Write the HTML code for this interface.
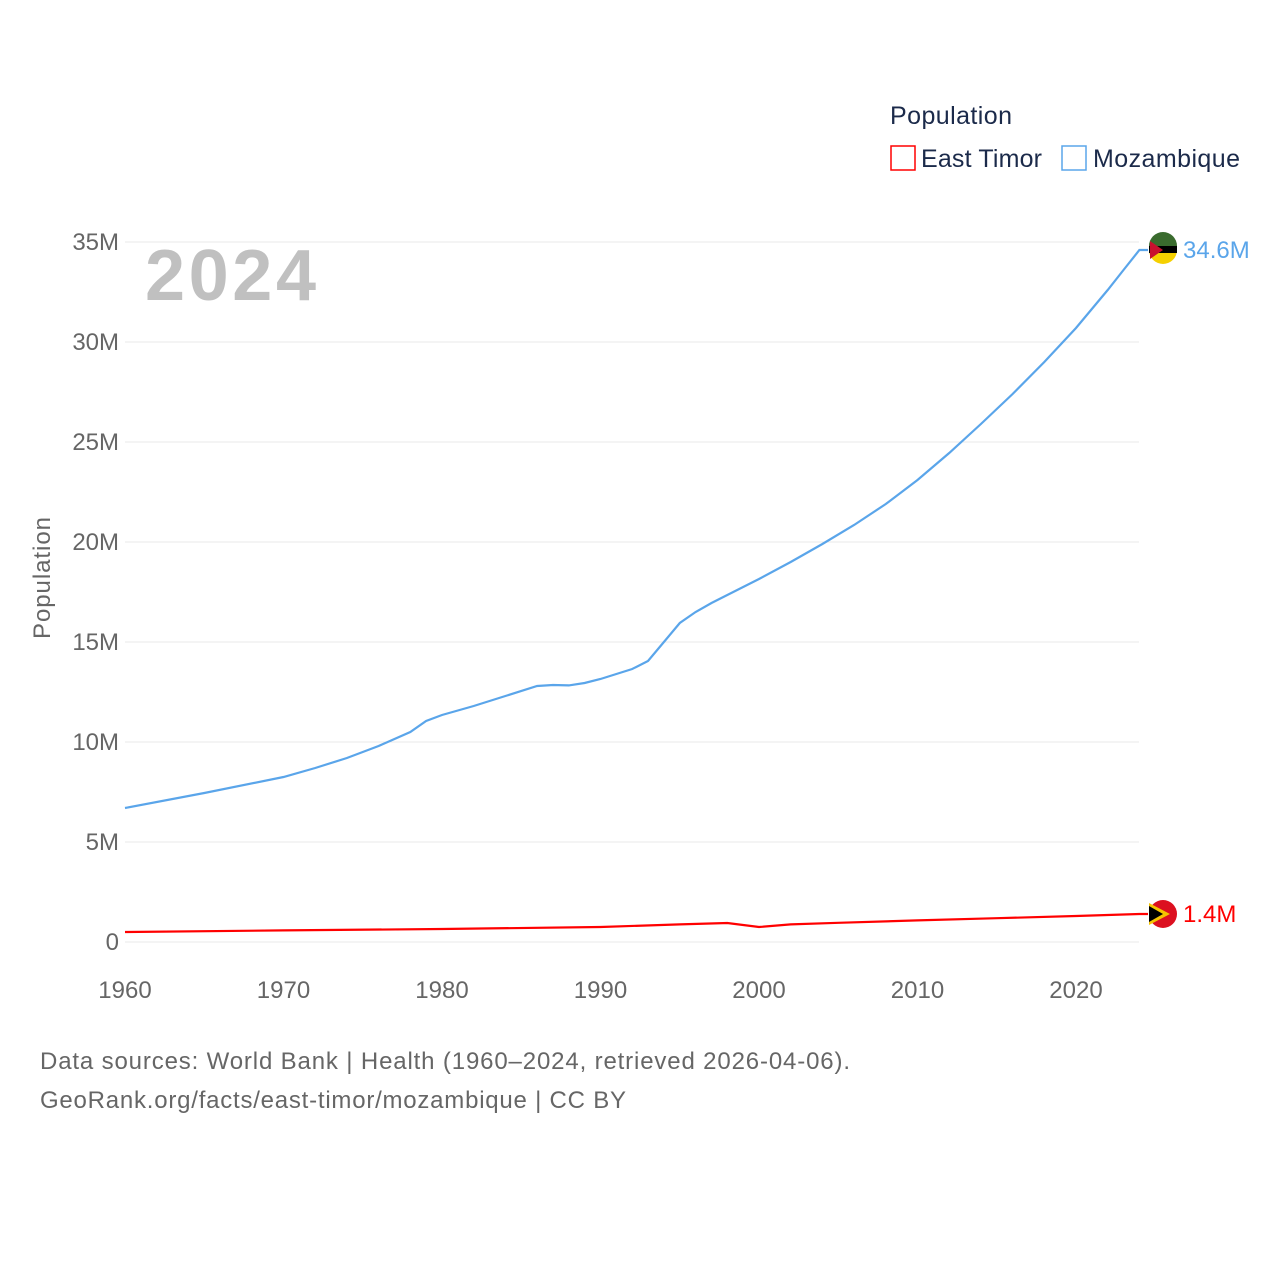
<!DOCTYPE html>
<html><head><meta charset="utf-8"><style>
body{margin:0;background:#fff;font-family:"Liberation Sans",sans-serif}
</style></head><body>
<svg id="chart" width="1280" height="1280" xmlns="http://www.w3.org/2000/svg" font-family="Liberation Sans, sans-serif">
<text x="890" y="124" font-size="25" fill="#1b2a4a" textLength="122">Population</text>
<g><rect x="891" y="146" width="24" height="24" fill="none" stroke="#ff0000" stroke-width="1.5"/><text x="921" y="167" font-size="25" fill="#1b2a4a" textLength="121">East Timor</text></g>
<g><rect x="1062" y="146" width="24" height="24" fill="none" stroke="#5aa5ea" stroke-width="1.5"/><text x="1093" y="167" font-size="25" fill="#1b2a4a" textLength="147">Mozambique</text></g>
<g id="grid"></g>
<g id="yticks"></g>
<g id="xticks"></g>
<text x="145" y="300" font-size="72" font-weight="bold" fill="#c0c0c0" textLength="171">2024</text>
<text transform="translate(50,578) rotate(-90)" text-anchor="middle" font-size="24" fill="#666" textLength="122">Population</text>
<g id="series"></g>
<text x="40" y="1069" font-size="24" fill="#666" textLength="810">Data sources: World Bank | Health (1960–2024, retrieved 2026-04-06).</text>
<text x="40" y="1108" font-size="24" fill="#666" textLength="586">GeoRank.org/facts/east-timor/mozambique | CC BY</text>
</svg>
<script>
const yearsMoz=[1960,1965,1970,1972,1974,1976,1978,1979,1980,1982,1984,1986,1987,1988,1989,1990,1992,1993,1994,1995,1996,1997,1998,2000,2002,2004,2006,2008,2010,2012,2014,2016,2018,2020,2022,2023,2024];
const valsMoz=[6.7,7.45,8.25,8.7,9.2,9.8,10.5,11.05,11.35,11.8,12.3,12.8,12.85,12.83,12.95,13.15,13.65,14.05,15.0,15.95,16.5,16.95,17.35,18.15,19.0,19.9,20.85,21.9,23.1,24.45,25.9,27.4,29.0,30.7,32.6,33.6,34.6];
const yearsTL=[1960,1970,1980,1990,1995,1998,2000,2002,2005,2010,2015,2020,2024];
const valsTL=[0.5,0.58,0.65,0.75,0.88,0.95,0.75,0.88,0.96,1.08,1.19,1.3,1.4];
const yTicks=[0,5,10,15,20,25,30,35];
const xTicks=[1960,1970,1980,1990,2000,2010,2020];
const NS='http://www.w3.org/2000/svg';
const X=y=>125+(y-1960)*(1076-125)/60;
const Y=v=>942-v*20;
function mk(t,a,p){const e=document.createElementNS(NS,t);for(const k in a)e.setAttribute(k,a[k]);p.appendChild(e);return e;}
const grid=document.getElementById('grid'),yt=document.getElementById('yticks'),xt=document.getElementById('xticks'),s=document.getElementById('series');
yTicks.forEach(v=>{
 const l=mk('line',{x1:125,x2:1139,y1:Y(v),y2:Y(v),stroke:'#e8e8e8','stroke-width':1},grid);
 
 
 const t=mk('text',{x:119,y:Y(v)+8,'text-anchor':'end','font-size':24,fill:'#666'},yt);
 t.textContent=v===0?'0':v+'M';
 
 
});
xTicks.forEach(v=>{
 const t=mk('text',{x:X(v),y:998,'text-anchor':'middle','font-size':24,fill:'#666'},xt);
 t.textContent=v;
 
 
});
function line(ys,vs,col,name){
 let d=ys.map((y,i)=>(i?'L':'M')+X(y).toFixed(1)+','+Y(vs[i]).toFixed(1)).join('');
 d+='L1148,'+Y(vs[vs.length-1]).toFixed(1);
 const p=mk('path',{d:d,fill:'none',stroke:col,'stroke-width':2.2},s);
 
 
}
line(yearsMoz,valsMoz,'#5aa5ea','mozambique-line');
line(yearsTL,valsTL,'#ff0000','east-timor-line');
const lm=valsMoz[valsMoz.length-1],lt=valsTL[valsTL.length-1];
const fm=mk('circle',{cx:1163,cy:Y(lm),r:14,fill:'#f5d000'},s);


mk('path',{d:`M1149,${Y(lm)-4}A14,14 0 0 1 1177,${Y(lm)-4}Z`,fill:'#3a6b2e'},s);
mk('rect',{x:1149,y:Y(lm)-4,width:28,height:7,fill:'#000'},s);
mk('path',{d:`M1150,${Y(lm)-9}L1163,${Y(lm)}L1150,${Y(lm)+9}Z`,fill:'#c8102e'},s);
const tm=mk('text',{x:1183,y:Y(lm)+8,'font-size':24,fill:'#5aa5ea'},s);
tm.textContent=lm+'M';


const ft=mk('circle',{cx:1163,cy:Y(lt),r:14,fill:'#dc1020'},s);


mk('path',{d:`M1149,${Y(lt)-11}L1170,${Y(lt)}L1149,${Y(lt)+11}Z`,fill:'#f5c400'},s);
mk('path',{d:`M1149,${Y(lt)-8}L1163,${Y(lt)}L1149,${Y(lt)+8}Z`,fill:'#000'},s);
const tt=mk('text',{x:1183,y:Y(lt)+8,'font-size':24,fill:'#ff0000'},s);
tt.textContent=lt+'M';


</script>
</body></html>
